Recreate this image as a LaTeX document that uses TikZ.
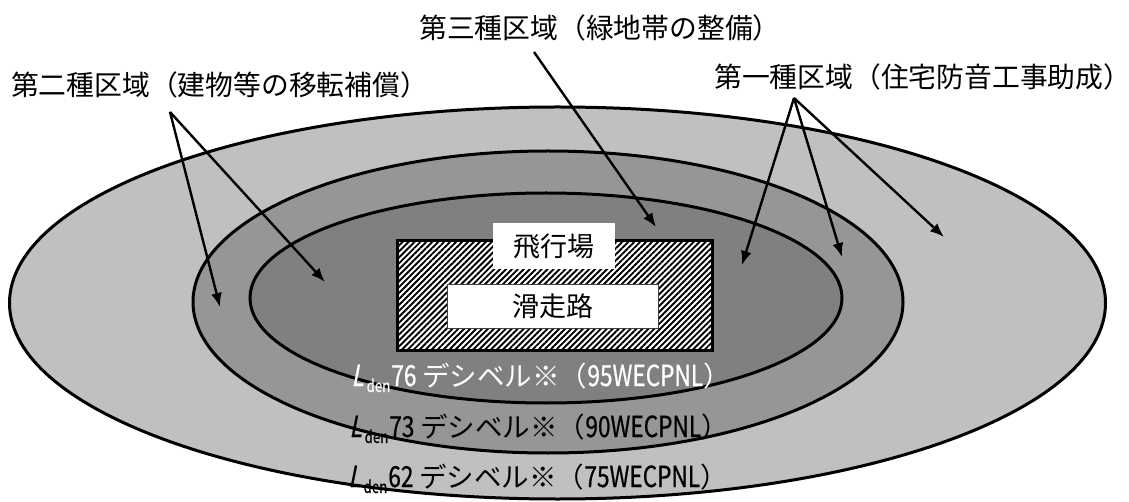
\documentclass[tikz,border=0pt]{standalone}
\usepackage{fontspec}
\usetikzlibrary{arrows.meta,patterns.meta}
\newfontfamily\jp{Noto Sans CJK JP}
\newfontfamily\jpn[FakeStretch=0.78,FakeBold=0.6]{Noto Sans CJK JP}
\newfontfamily\jpsl[FakeStretch=0.78,FakeSlant=0.2,FakeBold=0.6]{Noto Sans CJK JP}
\definecolor{zoneone}{RGB}{192,192,192}
\definecolor{zonetwo}{RGB}{150,150,150}
\definecolor{zonethree}{RGB}{128,128,128}
\newcommand\ldenlabel[2]{{\jpsl\fontsize{29}{29}\selectfont L}\kern3pt\raisebox{-6pt}{\jpn\fontsize{17}{17}\selectfont den}\kern1pt{\jpn\fontsize{29}{29}\selectfont #1}\hspace{6pt}{\jp\fontsize{27.5}{27.5}\selectfont デシベル※（}{\jpn\fontsize{29}{29}\selectfont #2WECPNL}{\jp\fontsize{27.5}{27.5}\selectfont ）}}
\begin{document}
\begin{tikzpicture}[x=1pt,y=-1pt,
  zone/.style={draw=black,line width=3pt},
  arr/.style={draw=black,line width=2.4pt,-{Latex[length=14pt,width=11pt]}},
  toplabel/.style={font=\jp\fontsize{27.8}{27.8}\selectfont,inner sep=0pt,anchor=base west},
  dblabel/.style={inner sep=0pt,anchor=base},
  whitebox/.style={fill=white,inner sep=0pt,font=\jp\fontsize{27}{27}\selectfont}]
\useasboundingbox (0,0) rectangle (1129,502);
\fill[white] (0,0) rectangle (1129,502);
% zones
\draw[zone,fill=zoneone] (557.5,303) ellipse [x radius=548pt, y radius=196pt];
\draw[zone,fill=zonetwo] (548,302) ellipse [x radius=355pt, y radius=151pt];
\draw[zone,fill=zonethree] (546,298) ellipse [x radius=296pt, y radius=105pt];
% airfield
\node[draw=black,line width=3pt,minimum width=315pt,minimum height=109pt,inner sep=0pt,
  preaction={fill=white},pattern={Lines[angle=45,distance=4.2pt,line width=1.9pt]}]
  (field) at (554.5,295.5) {};
\node[whitebox,minimum width=122pt,minimum height=46pt] (fieldlbl) at (554,246) {飛行場};
\node[whitebox,draw=black!75,line width=0.8pt,minimum width=211pt,minimum height=44pt] (runway) at (552.5,306) {滑走路};
% dB labels
\node[dblabel,text=white] (l76) at (541,386) {\ldenlabel{76}{95}};
\node[dblabel] (l73) at (539,437) {\ldenlabel{73}{90}};
\node[dblabel] (l62) at (538,487) {\ldenlabel{62}{75}};
% top labels
\node[toplabel] (z2) at (11,96) {第二種区域（建物等の移転補償）};
\node[toplabel] (z3) at (419,39) {第三種区域（緑地帯の整備）};
\node[toplabel] (z1) at (714,88) {第一種区域（住宅防音工事助成）};
% arrow coordinates
\coordinate (a2) at (170,112);
\coordinate (t2a) at (220,307);
\coordinate (t2b) at (325,282);
\coordinate (a3) at (534,52);
\coordinate (t3) at (656,227);
\coordinate (a1) at (794,98);
\coordinate (t1a) at (742,265);
\coordinate (t1b) at (842,257);
\coordinate (t1c) at (944,237);
\draw[arr] (a2) -- (t2a);
\draw[arr] (a2) -- (t2b);
\draw[arr] (a3) -- (t3);
\draw[arr] (a1) -- (t1a);
\draw[arr] (a1) -- (t1b);
\draw[arr] (a1) -- (t1c);
\end{tikzpicture}
\end{document}
